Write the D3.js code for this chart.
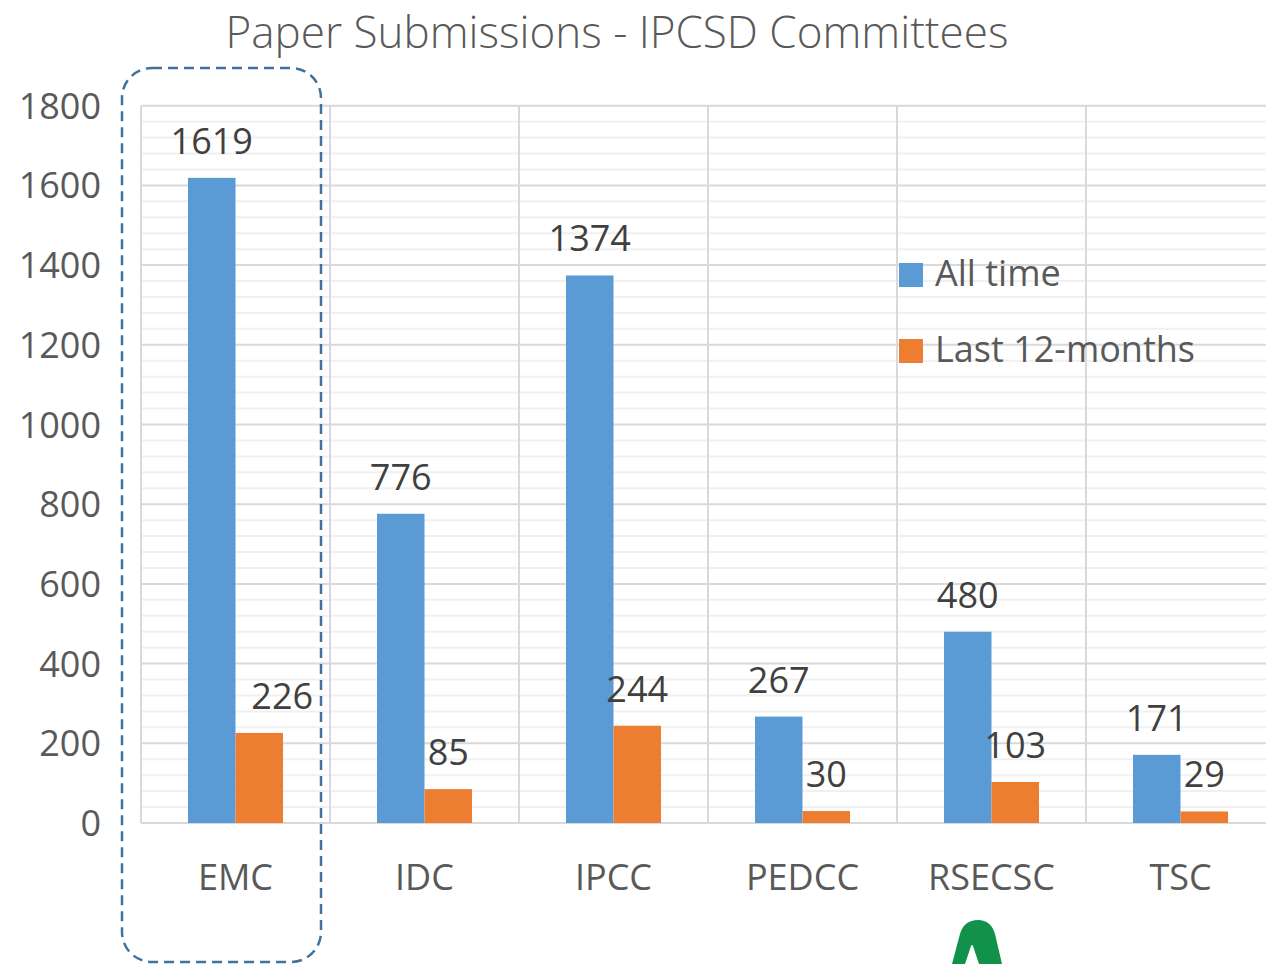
<!DOCTYPE html>
<html>
<head>
<meta charset="utf-8">
<script src="https://cdn.jsdelivr.net/npm/d3@7"></script>
<style>
  body { margin: 0; background: #fff; }
  svg text { font-family: "Open Sans", sans-serif; }
</style>
</head>
<body>
<svg id="chart" width="1266" height="964"></svg>
<script>
// data
var committees = ["EMC", "IDC", "IPCC", "PEDCC", "RSECSC", "TSC"];
var seriesNames = ["All time", "Last 12-months"];
var allTime = [1619, 776, 1374, 267, 480, 171];
var last12 = [226, 85, 244, 30, 103, 29];
var yTicks = [0, 200, 400, 600, 800, 1000, 1200, 1400, 1600, 1800];
var seriesColors = ["#5B9BD5", "#ED7D31"];

var svg = d3.select("#chart");
var left = 141, baseY = 823, topY = 105.7, band = 189;

var x0 = d3.scaleBand().domain(committees).range([left, left + band * committees.length]);
var x1 = d3.scaleBand().domain(seriesNames).range([47, 142]);
var y = d3.scaleLinear().domain([0, 1800]).range([baseY, topY]);

// minor grid every 40
var minor = d3.range(40, 1800, 40).filter(function (v) { return v % 200 !== 0; });
svg.append("g").selectAll("line").data(minor).enter().append("line")
    .attr("x1", left).attr("x2", 1266)
    .attr("y1", function (d) { return y(d); }).attr("y2", function (d) { return y(d); })
    .attr("stroke", "#f0f0f0").attr("stroke-width", 2);

// major grid
svg.append("g").selectAll("line").data(yTicks).enter().append("line")
    .attr("x1", left).attr("x2", 1266)
    .attr("y1", function (d) { return y(d); }).attr("y2", function (d) { return y(d); })
    .attr("stroke", "#d9d9d9").attr("stroke-width", 2);

// vertical category separators
var bounds = committees.map(function (c) { return x0(c); });
svg.append("g").selectAll("line").data(bounds).enter().append("line")
    .attr("x1", function (d) { return d; }).attr("x2", function (d) { return d; })
    .attr("y1", topY).attr("y2", baseY)
    .attr("stroke", "#d9d9d9").attr("stroke-width", 2);

// y axis labels
svg.append("g").selectAll("text").data(yTicks).enter().append("text")
    .attr("x", 101).attr("y", function (d) { return y(d) + 13; })
    .attr("text-anchor", "end")
    .attr("font-size", 36).attr("fill", "#595959")
    .text(function (d) { return d; });

// bars
var rows = committees.map(function (c, i) {
    return { name: c, values: [allTime[i], last12[i]] };
});
var groups = svg.append("g").selectAll("g").data(rows).enter().append("g")
    .attr("transform", function (d) { return "translate(" + x0(d.name) + ",0)"; });

groups.selectAll("rect").data(function (d) {
    return d.values.map(function (v, j) { return { key: seriesNames[j], value: v, idx: j, cat: d.name }; });
}).enter().append("rect")
    .attr("x", function (d) { return x1(d.key); })
    .attr("width", x1.bandwidth())
    .attr("y", function (d) { return y(d.value); })
    .attr("height", function (d) { return baseY - y(d.value); })
    .attr("fill", function (d) { return seriesColors[d.idx]; });

// value labels; the EMC orange label was pushed right in the original
var nudge = { "EMC|Last 12-months": 23 };
groups.selectAll("text").data(function (d) {
    return d.values.map(function (v, j) { return { key: seriesNames[j], value: v, cat: d.name }; });
}).enter().append("text")
    .attr("x", function (d) { return x1(d.key) + x1.bandwidth() / 2 + (nudge[d.cat + "|" + d.key] || 0); })
    .attr("y", function (d) { return y(d.value) - 24; })
    .attr("text-anchor", "middle")
    .attr("font-size", 36).attr("fill", "#404040")
    .text(function (d) { return d.value; });

// category labels
svg.append("g").selectAll("text").data(committees).enter().append("text")
    .attr("x", function (d) { return x0(d) + band / 2; })
    .attr("y", 890)
    .attr("text-anchor", "middle")
    .attr("font-size", 36).attr("fill", "#595959")
    .text(function (d) { return d; });

// title
svg.append("text")
    .attr("x", 617).attr("y", 48)
    .attr("text-anchor", "middle")
    .attr("font-size", 44).attr("font-weight", 300).attr("fill", "#595959")
    .text("Paper Submissions - IPCSD Committees");

// legend
var legend = svg.append("g").selectAll("g").data(seriesNames).enter().append("g")
    .attr("transform", function (d, i) { return "translate(899," + (263 + i * 76) + ")"; });
legend.append("rect").attr("width", 24).attr("height", 24)
    .attr("fill", function (d, i) { return seriesColors[i]; });
legend.append("text").attr("x", 36).attr("y", 23)
    .attr("font-size", 36).attr("fill", "#595959")
    .text(function (d) { return d; });

// dashed highlight around EMC
svg.append("rect")
    .attr("x", 122).attr("y", 68).attr("width", 199).attr("height", 894)
    .attr("rx", 30).attr("ry", 30)
    .attr("fill", "none").attr("stroke", "#41719C")
    .attr("stroke-width", 2.5).attr("stroke-dasharray", "10,6");

// partial green logo peeking at the bottom
svg.append("path")
    .attr("d", "M952,964 L960,934 Q964,920 978,920 Q991,920 995,934 L1002,964 L979,964 L973,946 Q972,944 971,946 L965,964 Z")
    .attr("fill", "#119149");
</script>
</body>
</html>
